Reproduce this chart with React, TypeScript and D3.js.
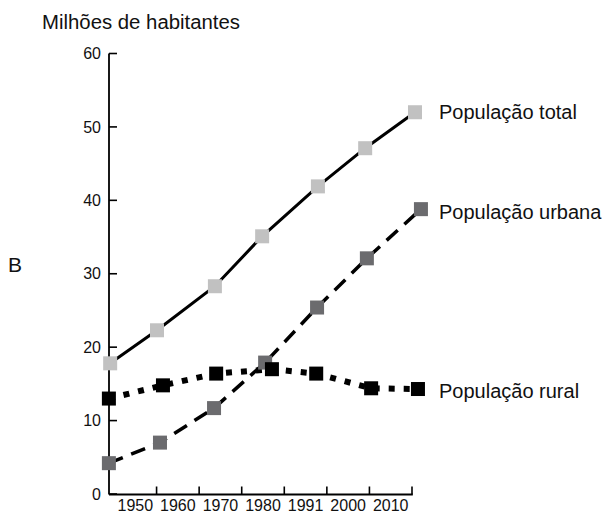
import * as d3 from "d3";

// x positions are in "band units" (0 = left of first band, 7 = right end of axis)
const xLabels = ["1950", "1960", "1970", "1980", "1991", "2000", "2010"];
const yTicks = [0, 10, 20, 30, 40, 50, 60];

const totalX = [-0.09, 1.01, 2.37, 3.48, 4.79, 5.9, 7.07];
const totalY = [17.8, 22.3, 28.3, 35.1, 41.9, 47.1, 52.0];

const urbanX = [-0.12, 1.08, 2.35, 3.55, 4.77, 5.94, 7.21];
const urbanY = [4.2, 7.0, 11.7, 17.9, 25.4, 32.1, 38.8];

const ruralX = [-0.12, 1.15, 2.4, 3.71, 4.75, 6.04, 7.14];
const ruralY = [13.0, 14.8, 16.4, 17.0, 16.4, 14.4, 14.3];

const series = [
  { name: "População total", xs: totalX, ys: totalY, fill: "#c1c1c1", dash: "none", width: 3, labelY: 112 },
  { name: "População urbana", xs: urbanX, ys: urbanY, fill: "#6b6b6e", dash: "15,9", width: 3.5, labelY: 212 },
  { name: "População rural", xs: ruralX, ys: ruralY, fill: "#000000", dash: "6,9", width: 6, labelY: 391 },
];

const W = 605;
const H = 518;
const axisX = 109;
const axisY = 494.5;

export default function App() {
  const x = d3.scaleLinear().domain([0, 7]).range([114, 412]);
  const band = d3.scaleBand().domain(xLabels).range([114, 412]);
  const y = d3.scaleLinear().domain([0, 60]).range([494, 53.5]);

  const font = "'Liberation Sans', Arial, sans-serif";
  const m = 14;

  return (
    <svg
      width={W}
      height={H}
      style={{ position: "absolute", left: 0, top: 0, background: "#fff" }}
      fontFamily={font}
    >
      <text x={42} y={29} fontSize={19.5} fill="#111" textLength={198} lengthAdjust="spacingAndGlyphs">
        Milhões de habitantes
      </text>
      <text x={8} y={272} fontSize={21} fill="#111">
        B
      </text>

      {/* y axis */}
      <line x1={axisX} x2={axisX} y1={y(60)} y2={axisY} stroke="#000" strokeWidth={1.8} />
      {yTicks.map((t) => (
        <g key={t}>
          <line x1={axisX} x2={axisX + 8} y1={y(t)} y2={y(t)} stroke="#000" strokeWidth={1.6} />
          <text x={101} y={y(t)} dy="0.35em" textAnchor="end" fontSize={16} fill="#111">
            {t}
          </text>
        </g>
      ))}

      {/* x axis */}
      <line x1={axisX} x2={x(7) + 0.8} y1={axisY} y2={axisY} stroke="#000" strokeWidth={1.8} />
      {d3.range(1, 8).map((i) => (
        <line key={i} x1={x(i)} x2={x(i)} y1={axisY} y2={axisY - 8} stroke="#000" strokeWidth={1.6} />
      ))}
      {xLabels.map((l) => (
        <text key={l} x={(band(l) ?? 0) + band.bandwidth() / 2} y={511} textAnchor="middle" fontSize={16} fill="#111">
          {l}
        </text>
      ))}

      {/* lines */}
      {series.map((s) => {
        const pts: [number, number][] = s.xs.map((v, i) => [x(v), y(s.ys[i])]);
        const path = d3.line()(pts) ?? "";
        return (
          <path
            key={s.name + "-line"}
            d={path}
            fill="none"
            stroke="#000"
            strokeWidth={s.width}
            strokeDasharray={s.dash}
          />
        );
      })}

      {/* markers */}
      {series.map((s) => (
        <g key={s.name + "-pts"}>
          {s.xs.map((v, i) => (
            <rect
              key={i}
              x={x(v) - m / 2}
              y={y(s.ys[i]) - m / 2}
              width={m}
              height={m}
              fill={s.fill}
            />
          ))}
        </g>
      ))}

      {/* labels */}
      {series.map((s) => (
        <text key={s.name + "-lbl"} x={439} y={s.labelY} dy="0.35em" fontSize={20} fill="#111">
          {s.name}
        </text>
      ))}
    </svg>
  );
}
